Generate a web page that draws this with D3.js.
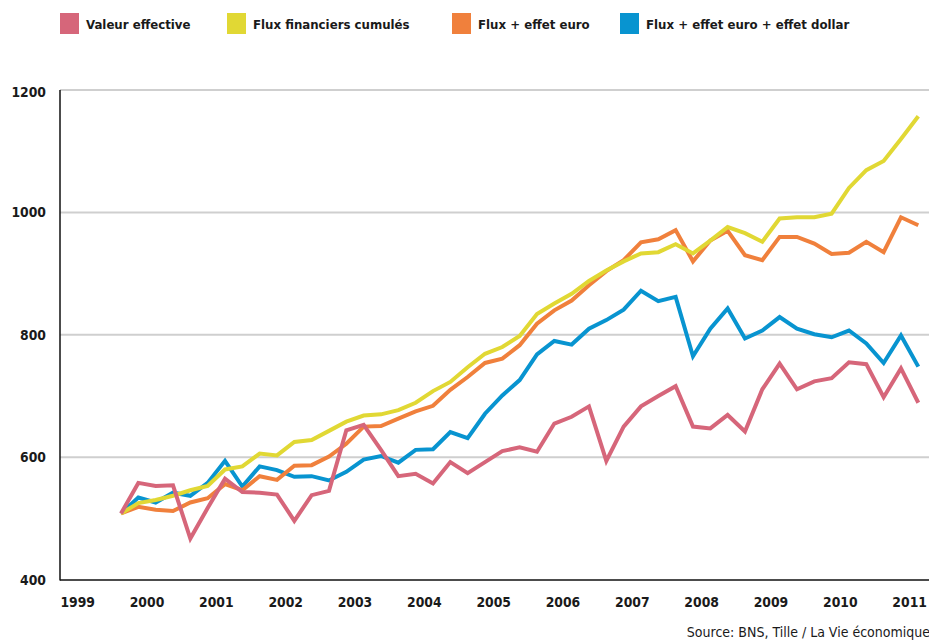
<!DOCTYPE html>
<html>
<head>
<meta charset="utf-8">
<script src="https://cdn.jsdelivr.net/npm/d3@7"></script>
<style>
  html, body { margin: 0; padding: 0; background: #fff; }
  svg { display: block; }
  text { font-family: "DejaVu Sans Condensed", "Liberation Sans", sans-serif; }
</style>
</head>
<body>
<svg id="chart" width="929" height="641"></svg>
<script>
// ---- Data (quarterly, 1999 Q3 .. 2011 Q1) ----
const startYear = 1999.625;   // mid of 1999 Q3
const stepYear = 0.25;

const seriesNames = ["Valeur effective", "Flux financiers cumulés", "Flux + effet euro", "Flux + effet euro + effet dollar"];
const seriesColors = ["#d6667a", "#e1d834", "#f0803c", "#0894d0"];

const valeurEffective = [508, 558, 553, 554, 467, 517, 565, 543, 542, 539, 496, 538, 545, 644, 653, 612,
  569, 573, 557, 592, 574, 592, 610, 616, 609, 655, 666, 683, 594, 650, 683, 700,
  716, 650, 647, 669, 642, 711, 753, 711, 724, 729, 755, 752, 698, 745, 689];

const fluxCumules = [508, 525, 530, 537, 546, 553, 580, 585, 606, 603, 625, 628, 643, 658, 668, 670,
  677, 689, 708, 723, 747, 769, 780, 798, 834, 851, 867, 888, 905, 920, 933, 935,
  948, 933, 954, 976, 966, 952, 990, 992, 992, 998, 1040, 1069, 1084, 1120, 1157];

const fluxEuro = [508, 519, 514, 512, 526, 533, 556, 546, 569, 563, 586, 587, 601, 622, 650, 651,
  663, 675, 684, 710, 731, 754, 761, 783, 818, 840, 856, 881, 904, 922, 951, 956,
  971, 920, 954, 970, 930, 922, 960, 960, 949, 932, 934, 952, 935, 992, 979];

const fluxEuroDollar = [508, 534, 526, 542, 537, 558, 594, 552, 585, 579, 568, 569, 562, 576, 596, 602,
  591, 612, 613, 641, 631, 671, 701, 726, 768, 790, 784, 810, 824, 841, 872, 855,
  862, 765, 810, 843, 794, 807, 829, 810, 801, 796, 807, 786, 754, 799, 748];

const yearLabels = ["1999", "2000", "2001", "2002", "2003", "2004", "2005", "2006", "2007", "2008", "2009", "2010", "2011"];
const yTicks = [400, 600, 800, 1000, 1200];
const sourceText = "Source: BNS, Tille / La Vie économique";

// ---- Layout ----
const svg = d3.select("#chart");
const plotLeft = 60, plotRight = 929, plotTop = 90, plotBottom = 579.6;

const x = d3.scaleLinear().domain([startYear, startYear + stepYear * 46]).range([121, 918.3]);
const y = d3.scaleLinear().domain([400, 1200]).range([plotBottom, plotTop]);

// gridlines
svg.append("g")
  .selectAll("line")
  .data(yTicks.filter(d => d > 400))
  .join("line")
  .attr("x1", plotLeft).attr("x2", plotRight)
  .attr("y1", d => y(d)).attr("y2", d => y(d))
  .attr("stroke", "#cfcfcf").attr("stroke-width", 2);

// y axis labels
svg.append("g")
  .selectAll("text")
  .data(yTicks)
  .join("text")
  .attr("x", 46)
  .attr("y", d => y(d) + 5 + (d === 1200 ? 2 : 0))
  .attr("text-anchor", "end")
  .attr("font-size", 13.8)
  .attr("font-weight", "bold")
  .attr("fill", "#1a1a1a")
  .text(d => d);

// x axis labels
svg.append("g")
  .selectAll("text")
  .data(yearLabels)
  .join("text")
  .attr("x", d => x(+d))
  .attr("y", 607)
  .attr("text-anchor", "middle")
  .attr("font-size", 13.8)
  .attr("font-weight", "bold")
  .attr("fill", "#1a1a1a")
  .text(d => d);

// lines
const line = d3.line()
  .x((d, i) => x(startYear + i * stepYear))
  .y(d => y(d))
  .curve(d3.curveLinear);

const drawOrder = [3, 2, 1, 0];
const allSeries = [valeurEffective, fluxCumules, fluxEuro, fluxEuroDollar];
svg.append("g")
  .selectAll("path")
  .data(drawOrder)
  .join("path")
  .attr("d", k => line(allSeries[k]))
  .attr("fill", "none")
  .attr("stroke", k => seriesColors[k])
  .attr("stroke-width", 4)
  .attr("stroke-linejoin", "miter")
  .attr("stroke-miterlimit", 3);

// axes lines
svg.append("line")
  .attr("x1", plotLeft).attr("x2", plotLeft)
  .attr("y1", plotTop).attr("y2", plotBottom + 1)
  .attr("stroke", "#111").attr("stroke-width", 1.5);
svg.append("line")
  .attr("x1", plotLeft).attr("x2", plotRight)
  .attr("y1", plotBottom + 0.5).attr("y2", plotBottom + 0.5)
  .attr("stroke", "#111").attr("stroke-width", 1.5);

// legend
const legendX = [60, 227, 452, 620];
const lg = svg.append("g")
  .selectAll("g")
  .data(seriesNames)
  .join("g")
  .attr("transform", (d, i) => `translate(${legendX[i]},13)`);
lg.append("rect")
  .attr("width", 19).attr("height", 21)
  .attr("fill", (d, i) => seriesColors[i]);
lg.append("text")
  .attr("x", 26).attr("y", 15.5)
  .attr("font-size", 13.1)
  .attr("font-weight", "bold")
  .attr("fill", "#1a1a1a")
  .text(d => d);

// source
svg.append("text")
  .attr("x", 930).attr("y", 637)
  .attr("text-anchor", "end")
  .attr("font-size", 14)
  .attr("fill", "#1a1a1a")
  .text(sourceText);
</script>
</body>
</html>
